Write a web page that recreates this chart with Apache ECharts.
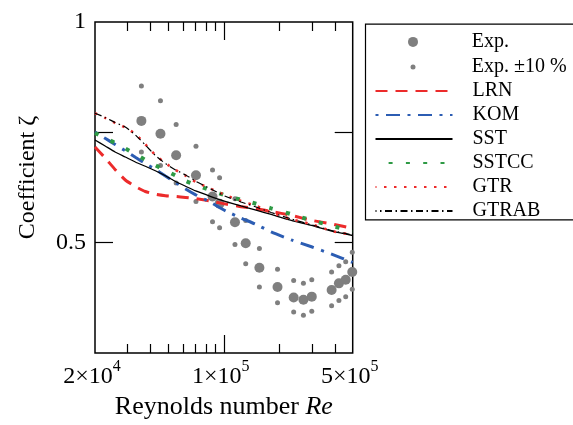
<!DOCTYPE html>
<html><head><meta charset="utf-8">
<script src="https://cdn.jsdelivr.net/npm/echarts@6/dist/echarts.min.js"></script>
<style>html,body{margin:0;padding:0;background:#fff}#c{width:573px;height:425px}</style>
</head><body><div id="c"></div>
<script>
// ---- data ----
const reGrid = [20000, 22700, 25700, 29200, 33100, 37500, 42500, 48200, 54700, 62000, 70400, 85000, 102600, 123900, 149600, 180600, 232300, 298800, 384200, 500000];
const lrn   = [0.6754, 0.6524, 0.6293, 0.6088, 0.5965, 0.5872, 0.5821, 0.5795, 0.5780, 0.5764, 0.5743, 0.5698, 0.5644, 0.5599, 0.5562, 0.5516, 0.5447, 0.5364, 0.5303, 0.5228];
const kom   = [0.7079, 0.6940, 0.6807, 0.6673, 0.6538, 0.6412, 0.6293, 0.6166, 0.6041, 0.5919, 0.5811, 0.5673, 0.5523, 0.5403, 0.5294, 0.5172, 0.5043, 0.4936, 0.4823, 0.4699];
const sst   = [0.6903, 0.6775, 0.6648, 0.6544, 0.6442, 0.6356, 0.6267, 0.6169, 0.6060, 0.5969, 0.5882, 0.5780, 0.5689, 0.5611, 0.5537, 0.5463, 0.5364, 0.5278, 0.5185, 0.5114];
const sstcc = [0.7057, 0.6947, 0.6839, 0.6723, 0.6602, 0.6485, 0.6376, 0.6273, 0.6173, 0.6069, 0.5994, 0.5893, 0.5799, 0.5721, 0.5650, 0.5570, 0.5468, 0.5363, 0.5273, 0.5180];
const gtr   = [0.7508, 0.7397, 0.7281, 0.7177, 0.7035, 0.6809, 0.6585, 0.6420, 0.6283, 0.6171, 0.6050, 0.5924, 0.5802, 0.5700, 0.5613, 0.5496, 0.5383, 0.5299, 0.5188, 0.5122];
const gtrab = [0.7508, 0.7409, 0.7293, 0.7191, 0.7013, 0.6796, 0.6575, 0.6412, 0.6283, 0.6185, 0.6063, 0.5919, 0.5780, 0.5682, 0.5593, 0.5497, 0.5386, 0.5289, 0.5195, 0.5122];

const expRe    = [35700, 45300, 55100, 70600, 86800, 94800, 114900, 131400, 155900, 195500, 239200, 270200, 299900, 384200, 421000, 458200, 497200];
const expZeta  = [0.733, 0.704, 0.658, 0.618, 0.578, 0.565, 0.533, 0.499, 0.462, 0.435, 0.421, 0.418, 0.422, 0.431, 0.440, 0.445, 0.456];
const expUpper = [0.818, 0.781, 0.725, 0.677, 0.628, 0.613, 0.574, 0.536, 0.491, 0.460, 0.444, 0.440, 0.445, 0.456, 0.465, 0.471, 0.485];
const expLower = [0.665, 0.637, 0.603, 0.569, 0.534, 0.524, 0.497, 0.468, 0.435, 0.414, 0.402, 0.398, 0.403, 0.410, 0.417, 0.422, 0.432];

const xTickValues   = [20000, 100000, 500000];
const xTickMantissa = ['2', '1', '5'];
const xTickExponent = ['4', '5', '5'];
const xMinorTicks   = [30000, 40000, 50000, 60000, 70000, 80000, 90000, 200000, 300000, 400000];
const xMajorTicks   = [100000];
const yTickValues   = [1, 0.5];
const yTickLabels   = ['1', '0.5'];
const yTickMarks    = [0.70711, 0.5];

// ---- chart ----
const FONT = '"Liberation Serif", "DejaVu Serif", serif';
const X_MIN = 20000, X_MAX = 500000, Y_MIN = 0.353553, Y_MAX = 1;
function pairs(xs, ys) { return xs.map((x, i) => [x, ys[i]]); }

function xLabel(v) {
  let best = 0;
  for (let i = 1; i < xTickValues.length; i++) {
    if (Math.abs(Math.log(xTickValues[i] / v)) < Math.abs(Math.log(xTickValues[best] / v))) best = i;
  }
  return '{b|' + xTickMantissa[best] + '×10}{s|' + xTickExponent[best] + '}';
}
function yLabel(v) {
  for (let i = 0; i < yTickValues.length; i++) if (Math.abs(yTickValues[i] - v) < 1e-4) return yTickLabels[i];
  return '';
}

const xBase = {
  type: 'log', logBase: 10, min: X_MIN, max: X_MAX, gridIndex: 0,
  axisLine: { show: false }, splitLine: { show: false }, minorTick: { show: false }
};
const xAxes = [
  Object.assign({}, xBase, {
    position: 'bottom',
    name: 'Reynolds number {i|Re}', nameLocation: 'middle', nameGap: 35,
    nameTextStyle: { fontFamily: FONT, fontSize: 26, color: '#000',
      rich: { i: { fontFamily: FONT, fontSize: 26, fontStyle: 'italic', color: '#000' } } },
    axisTick: { show: true, inside: true, length: 9, lineStyle: { color: '#000', width: 1.2 }, customValues: xMinorTicks },
    axisLabel: { show: true, margin: 6, customValues: xTickValues.map((v, i) => i === 0 ? v * 1.0000001 : (i === xTickValues.length - 1 ? v * 0.9999999 : v)),
      formatter: xLabel, padding: [0, 6, 0, 0],
      rich: {
        b: { fontFamily: FONT, fontSize: 24, color: '#000', lineHeight: 30, verticalAlign: 'bottom' },
        s: { fontFamily: FONT, fontSize: 16, color: '#000', lineHeight: 18, verticalAlign: 'top' }
      } }
  }),
  Object.assign({}, xBase, {
    position: 'bottom',
    axisTick: { show: true, inside: true, length: 18, lineStyle: { color: '#000', width: 1.2 }, customValues: xMajorTicks },
    axisLabel: { show: false }
  }),
  Object.assign({}, xBase, {
    position: 'top',
    axisTick: { show: true, inside: true, length: 9, lineStyle: { color: '#000', width: 1.2 }, customValues: xMinorTicks },
    axisLabel: { show: false }
  }),
  Object.assign({}, xBase, {
    position: 'top',
    axisTick: { show: true, inside: true, length: 18, lineStyle: { color: '#000', width: 1.2 }, customValues: xMajorTicks },
    axisLabel: { show: false }
  })
];

const yBase = {
  type: 'log', logBase: 10, min: Y_MIN, max: Y_MAX, gridIndex: 0,
  axisLine: { show: false }, splitLine: { show: false }, minorTick: { show: false },
  axisTick: { show: true, inside: true, length: 18, lineStyle: { color: '#000', width: 1.2 }, customValues: yTickMarks }
};
const yAxes = [
  Object.assign({}, yBase, {
    position: 'left',
    name: 'Coefficient ζ', nameLocation: 'middle', nameGap: 55, nameRotate: 90,
    nameTextStyle: { fontFamily: FONT, fontSize: 24, color: '#000', padding: [0, 0, 0, 20] },
    axisLabel: { show: true, margin: 9, customValues: yTickValues, formatter: yLabel,
      fontFamily: FONT, fontSize: 24, color: '#000' }
  }),
  Object.assign({}, yBase, { position: 'right', axisLabel: { show: false } })
];

const RED = '#ec2b2b', BLUE = '#2c5db3', GREEN = '#2e9a45', GRAY = '#7f7f7f';
function lineSeries(name, data, style) {
  return { name: name, type: 'line', data: pairs(reGrid, data), xAxisIndex: 0, yAxisIndex: 0,
    symbol: 'none', smooth: 0.2, clip: true, lineStyle: style, itemStyle: { color: style.color },
    emphasis: { disabled: true }, z: 3 };
}
const LEG_TEXT = { fontFamily: FONT, fontSize: 20, color: '#000' };

const option = {
  animation: false,
  backgroundColor: '#fff',
  grid: { left: 95, right: 220.3, top: 22, bottom: 72, show: true, borderColor: '#000', borderWidth: 1.5, backgroundColor: 'transparent' },
  xAxis: xAxes,
  yAxis: yAxes,
  legend: [
    { data: ['Exp.'], left: 408, top: 31.9, orient: 'vertical', padding: 0, itemWidth: 10, itemHeight: 10, icon: 'circle',
      textStyle: Object.assign({ padding: [0, 0, 0, 48.7] }, LEG_TEXT), selectedMode: false },
    { data: ['Exp. ±10 %'], left: 410.5, top: 57, orient: 'vertical', padding: 0, itemWidth: 5, itemHeight: 5, icon: 'circle',
      textStyle: Object.assign({ padding: [0, 0, 0, 51.2] }, LEG_TEXT), selectedMode: false },
    { data: ['LRN', 'KOM', 'SST', 'SSTCC', 'GTR', 'GTRAB'], left: 374.5, top: 81, orient: 'vertical', padding: 0,
      itemWidth: 77, itemHeight: 14, itemGap: 4, itemStyle: { opacity: 0 },
      textStyle: Object.assign({ padding: [0, 0, 0, 15] }, LEG_TEXT), selectedMode: false }
  ],
  graphic: [
    { type: 'rect', left: 363, top: 21.7, shape: { width: 260, height: 195.6 }, silent: true,
      style: { fill: 'none', stroke: '#000', lineWidth: 1.2 } }
  ],
  series: [
    { name: 'Exp.', type: 'scatter', data: pairs(expRe, expZeta), symbol: 'circle', symbolSize: 10,
      itemStyle: { color: GRAY, opacity: 1 }, clip: true, z: 2, emphasis: { disabled: true } },
    { name: 'Exp. ±10 %', type: 'scatter', data: pairs(expRe, expUpper).concat(pairs(expRe, expLower)), symbol: 'circle', symbolSize: 5,
      itemStyle: { color: GRAY, opacity: 1 }, clip: true, z: 2, emphasis: { disabled: true } },
    lineSeries('LRN', lrn, { color: RED, width: 3, type: [12, 8] }),
    lineSeries('KOM', kom, { color: BLUE, width: 3, type: [14, 7.5, 3, 7.5], dashOffset: 21.5 }),
    lineSeries('SST', sst, { color: '#000', width: 1.3, type: 'solid' }),
    lineSeries('SSTCC', sstcc, { color: GREEN, width: 4, type: [4, 13.3] }),
    lineSeries('GTR', gtr, { color: RED, width: 2.5, type: [2.5, 7.5] }),
    lineSeries('GTRAB', gtrab, { color: '#000', width: 1.2, type: [7, 3.5, 1.5, 3.5] })
  ]
};

const chart = echarts.init(document.getElementById('c'), null, { renderer: 'canvas' });
chart.setOption(option);
</script></body></html>
